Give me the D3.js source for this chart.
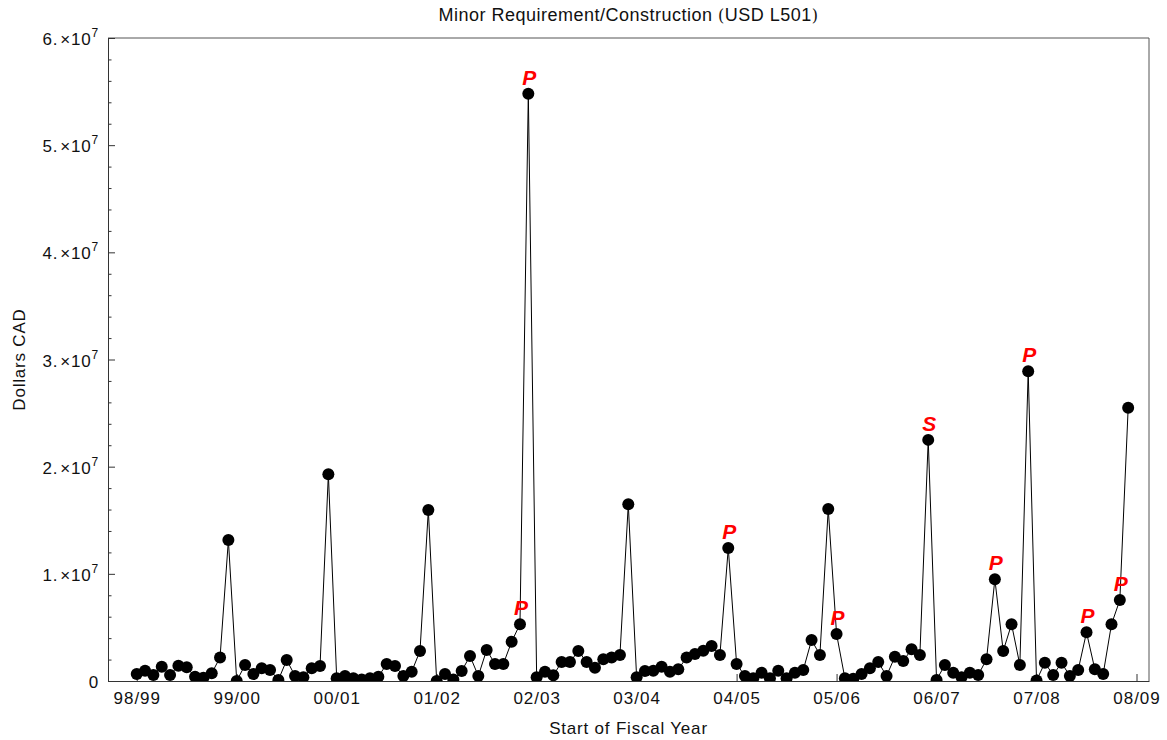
<!DOCTYPE html>
<html>
<head>
<meta charset="utf-8">
<script src="https://cdn.jsdelivr.net/npm/d3@7"></script>
<style>
  html, body { margin: 0; padding: 0; background: #fff; }
  svg { display: block; font-family: "Liberation Sans", Arial, sans-serif; }
</style>
</head>
<body>
<svg id="chart" width="1167" height="740"></svg>
<script>
// ---- Data ----
const title = "Minor Requirement/Construction";
const titleParen = "USD L501";
const xLabel = "Start of Fiscal Year";
const yLabel = "Dollars CAD";
const fiscalYears = ["98/99","99/00","00/01","01/02","02/03","03/04","04/05","05/06","06/07","07/08","08/09"];
const yTickValues = [0, 1e7, 2e7, 3e7, 4e7, 5e7, 6e7];
const yTickMantissa = ["0", "1.", "2.", "3.", "4.", "5.", "6."];
// monthly values (month 0 = start of 98/99), in dollars
const monthlyValues = [
  0.65e6, 0.96e6, 0.56e6, 1.33e6, 0.56e6, 1.43e6, 1.28e6, 0.40e6, 0.30e6, 0.72e6, 2.2e6, 13.15e6,
  0.0e6, 1.5e6, 0.65e6, 1.18e6, 1.03e6, 0.10e6, 1.96e6, 0.47e6, 0.35e6, 1.18e6, 1.4e6, 19.3e6,
  0.25e6, 0.47e6, 0.25e6, 0.15e6, 0.25e6, 0.40e6, 1.59e6, 1.4e6, 0.47e6, 0.87e6, 2.8e6, 15.95e6,
  0.0e6, 0.65e6, 0.15e6, 0.93e6, 2.33e6, 0.47e6, 2.9e6, 1.59e6, 1.59e6, 3.67e6, 5.3e6, 54.8e6,
  0.35e6, 0.87e6, 0.53e6, 1.77e6, 1.77e6, 2.8e6, 1.77e6, 1.24e6, 2.02e6, 2.2e6, 2.43e6, 16.5e6,
  0.35e6, 0.93e6, 0.96e6, 1.33e6, 0.87e6, 1.09e6, 2.2e6, 2.52e6, 2.83e6, 3.26e6, 2.43e6, 12.4e6,
  1.59e6, 0.47e6, 0.25e6, 0.78e6, 0.25e6, 0.96e6, 0.25e6, 0.78e6, 1.03e6, 3.82e6, 2.43e6, 16.05e6,
  4.38e6, 0.25e6, 0.20e6, 0.65e6, 1.18e6, 1.77e6, 0.47e6, 2.27e6, 1.87e6, 2.96e6, 2.43e6, 22.5e6,
  0.10e6, 1.5e6, 0.78e6, 0.35e6, 0.78e6, 0.56e6, 2.02e6, 9.5e6, 2.8e6, 5.3e6, 1.5e6, 28.9e6,
  0.05e6, 1.7e6, 0.56e6, 1.7e6, 0.47e6, 1.03e6, 4.54e6, 1.09e6, 0.65e6, 5.3e6, 7.55e6, 25.5e6
];
const annotationMonths = [46, 47, 71, 84, 95, 103, 107, 114, 118];
const annotationLetters = ["P", "P", "P", "P", "S", "P", "P", "P", "P"];

// ---- Layout ----
const svg = d3.select("#chart");
const plot = { left: 108, right: 1149, top: 38, bottom: 681 };
const textColor = "#111";

const x = d3.scaleLinear().domain([-3.45, 121.5]).range([plot.left, plot.right]);
const y = d3.scaleLinear().domain([0, 6e7]).range([plot.bottom, plot.top]);

const data = monthlyValues.map((v, i) => ({ m: i, v }));

svg.append("defs").append("clipPath").attr("id", "clip")
  .append("rect")
  .attr("x", plot.left).attr("y", plot.top)
  .attr("width", plot.right - plot.left).attr("height", plot.bottom - plot.top);

// frame (top/right)
svg.append("path")
  .attr("d", `M${plot.left},${plot.top}H${plot.right}V${plot.bottom}`)
  .attr("fill", "none").attr("stroke", "#555").attr("stroke-width", 1);

// x axis
const xAxis = d3.axisBottom(x)
  .tickValues(fiscalYears.map((d, i) => i * 12))
  .tickFormat((d, i) => fiscalYears[i])
  .tickSizeInner(-7).tickSizeOuter(0).tickPadding(11);
const gx = svg.append("g").attr("transform", `translate(0,${plot.bottom})`).call(xAxis);
gx.select(".domain").attr("stroke", "#333");
gx.selectAll(".tick line").attr("stroke", "#333");
gx.selectAll(".tick text").attr("font-size", 17).attr("fill", textColor)
  .attr("letter-spacing", 1)
  .attr("font-family", "'Liberation Sans', Arial, sans-serif");

// y axis with minor ticks
const minorTicks = d3.range(0, 6e7 + 1, 2e6).filter(v => v % 1e7 !== 0);
const gyMinor = svg.append("g").attr("transform", `translate(${plot.left},0)`)
  .call(d3.axisLeft(y).tickValues(minorTicks).tickFormat("").tickSizeInner(-3.5).tickSizeOuter(0));
gyMinor.select(".domain").remove();
gyMinor.selectAll(".tick line").attr("stroke", "#333");

const gy = svg.append("g").attr("transform", `translate(${plot.left},0)`)
  .call(d3.axisLeft(y).tickValues(yTickValues).tickFormat("").tickSizeInner(-7).tickSizeOuter(0));
gy.select(".domain").attr("stroke", "#333");
gy.selectAll(".tick line").attr("stroke", "#333");

// y tick labels (Mathematica style "6.×10^7")
yTickValues.forEach((v, i) => {
  const t = svg.append("text")
    .attr("x", plot.left - 9)
    .attr("y", y(v) + 7)
    .attr("text-anchor", "end")
    .attr("font-size", 17)
    .attr("letter-spacing", 0.8)
    .attr("fill", textColor);
  if (v === 0) {
    t.text("0");
  } else {
    t.append("tspan").text(yTickMantissa[i]);
    t.append("tspan").attr("dx", 2).text("\u00D7");
    t.append("tspan").text("10");
    t.append("tspan").attr("font-size", 12).attr("dy", -8).text("7");
  }
});

// line + dots
const g = svg.append("g").attr("clip-path", "url(#clip)");
g.append("path")
  .datum(data)
  .attr("d", d3.line().x(d => x(d.m)).y(d => y(d.v)))
  .attr("fill", "none").attr("stroke", "#000").attr("stroke-width", 1);
g.selectAll("circle").data(data).join("circle")
  .attr("cx", d => x(d.m)).attr("cy", d => y(d.v)).attr("r", 6)
  .attr("fill", "#000");

// annotations
svg.selectAll("text.annot").data(annotationMonths).join("text")
  .attr("class", "annot")
  .attr("x", d => x(d) + 1)
  .attr("y", d => y(monthlyValues[d]) - 9)
  .attr("text-anchor", "middle")
  .attr("font-size", 21)
  .attr("font-weight", "bold")
  .attr("font-style", "italic")
  .attr("fill", "#ff0000")
  .text((d, i) => annotationLetters[i]);

// title
const tt = svg.append("text")
  .attr("x", (plot.left + plot.right) / 2)
  .attr("y", 21)
  .attr("text-anchor", "middle")
  .attr("font-size", 18)
  .attr("letter-spacing", 0.5)
  .attr("fill", textColor);
tt.append("tspan").text(title + " ");
tt.append("tspan").attr("font-family", "'DejaVu Serif', serif").attr("font-size", 16).text("(");
tt.append("tspan").text(titleParen);
tt.append("tspan").attr("font-family", "'DejaVu Serif', serif").attr("font-size", 16).text(")");

// axis labels
svg.append("text")
  .attr("x", (plot.left + plot.right) / 2)
  .attr("y", 734)
  .attr("text-anchor", "middle")
  .attr("font-size", 17)
  .attr("letter-spacing", 0.8)
  .attr("fill", textColor)
  .text(xLabel);

svg.append("text")
  .attr("transform", `translate(25,${(plot.top + plot.bottom) / 2}) rotate(-90)`)
  .attr("text-anchor", "middle")
  .attr("font-size", 17)
  .attr("letter-spacing", 0.8)
  .attr("fill", textColor)
  .text(yLabel);
</script>
</body>
</html>
